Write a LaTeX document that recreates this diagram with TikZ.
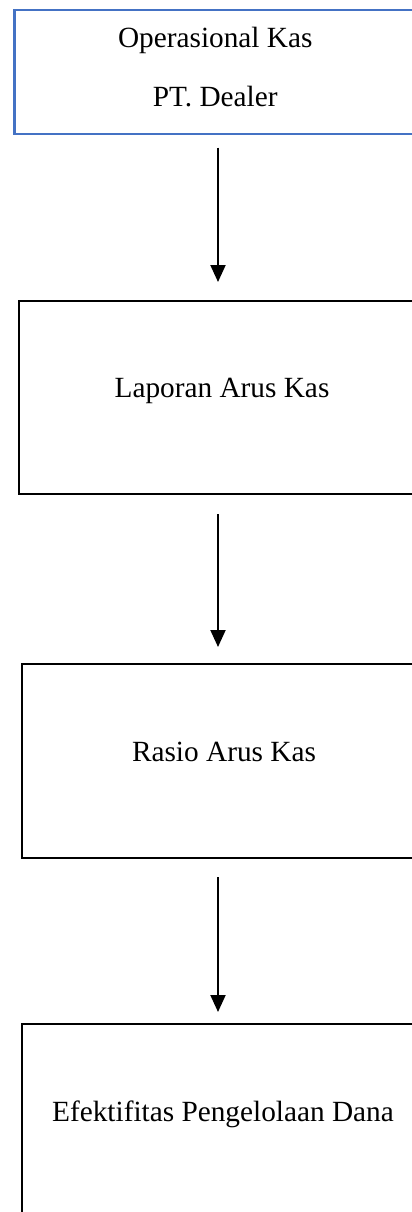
\documentclass[tikz,border=0pt]{standalone}
\usepackage{fontspec}
\setmainfont{Liberation Serif}
\usetikzlibrary{arrows.meta}
\definecolor{boxblue}{HTML}{4472C4}
\tikzset{
  flowbox/.style={draw=black, line width=2pt, rectangle, anchor=north west, inner sep=0pt,
    font=\fontsize{29.3}{59}\selectfont, align=center},
  onebox/.style={flowbox, text height=14pt, text depth=14pt},
  topbox/.style={flowbox, draw=boxblue, line width=2.5pt, text depth=11pt},
  arr/.style={line width=2pt, -{Triangle[width=15pt,length=17pt]}}
}
\begin{document}
\begin{tikzpicture}[x=1pt,y=-1pt]
\useasboundingbox (0,0) rectangle (412,1212);
\clip (0,0) rectangle (412,1212);
\node[topbox, minimum width=402pt, minimum height=124pt] (b1) at (13,9) {Operasional Kas\\PT. Dealer};
\node[onebox, minimum width=406pt, minimum height=193pt] (b2) at (18,300) {Laporan Arus Kas};
\node[onebox, minimum width=404pt, minimum height=194pt] (b3) at (21,663) {Rasio Arus Kas};
\node[onebox, minimum width=402pt, minimum height=194pt] (b4) at (21,1023) {Efektifitas Pengelolaan Dana};
\coordinate (ax) at (218,0);
\draw[arr, shorten <=12pt, shorten >=18pt] (b1.south -| ax) -- (b2.north -| ax);
\draw[arr, shorten <=19pt, shorten >=16pt] (b2.south -| ax) -- (b3.north -| ax);
\draw[arr, shorten <=18pt, shorten >=11pt] (b3.south -| ax) -- (b4.north -| ax);
\end{tikzpicture}
\end{document}
